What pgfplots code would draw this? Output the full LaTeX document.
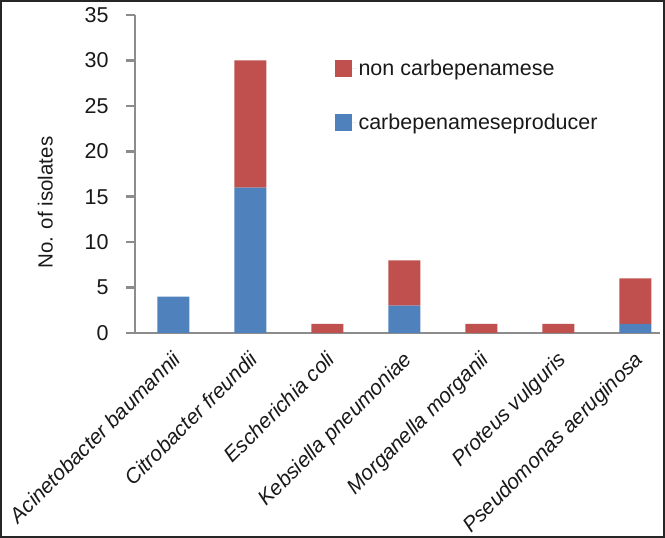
\documentclass[border=0pt]{standalone}
\usepackage{pgfplots}
\pgfplotsset{compat=1.18}
\usepackage{fontspec}
\setmainfont{Liberation Sans}
\definecolor{barblue}{HTML}{4F81BD}
\definecolor{barred}{HTML}{C0504D}
\definecolor{axgray}{HTML}{8C8C8C}
\begin{document}
\begin{tikzpicture}
\path[use as bounding box] (0pt,0pt) rectangle (665pt,538pt);
\begin{axis}[
  at={(135pt,205pt)}, anchor=south west,
  scale only axis, width=525pt, height=318pt,
  ybar stacked, bar width=32pt,
  xmin=-0.5, xmax=6.32, ymin=0, ymax=35,
  axis x line*=bottom, axis y line*=left,
  axis line style={draw=axgray, line width=2.5pt},
  ytick={0,5,...,35},
  xtick={0,...,6},
  xticklabels={Acinetobacter baumannii, Citrobacter freundii, Escherichia coli, Kebsiella pneumoniae, Morganella morganii, Proteus vulguris, Pseudomonas aeruginosa},
  tick align=outside,
  major tick length=9pt,
  ytick style={draw=axgray, line width=2.5pt},
  xtick style={draw=none},
  extra x ticks={-0.5,0.5,...,5.5},
  extra x tick labels={},
  extra x tick style={tick style={draw=axgray, line width=2.5pt}, major tick length=9pt},
  /pgf/number format/assume math mode=true,
  ticklabel style={font=\fontsize{21.5}{25}\selectfont, text=black!90},
  yticklabel style={xshift=-14pt},
  xticklabel style={font=\fontsize{21}{25}\selectfont\itshape, rotate=45, anchor=north east, inner sep=1pt, xshift=-6pt, yshift=-3pt},
  ylabel={No. of isolates},
  every axis y label/.style={at={(axis description cs:-0.171,0.41)}, rotate=90, anchor=center, font=\fontsize{20.5}{24}\selectfont, text=black!90},
  legend style={draw=none, fill=none, at={(0.374,0.872)}, anchor=north west, font=\fontsize{21.5}{25}\selectfont, row sep=33pt, text=black!90},
  legend cell align=left,
  reverse legend,
  legend image code/.code={\fill[#1] (0pt,-8.5pt) rectangle (17pt,8.5pt); \path (0pt,0pt) -- (22pt,0pt);},
]
\addplot[fill=barblue, draw=none] coordinates {(0,4) (1,16) (2,0) (3,3) (4,0) (5,0) (6,1)};
\addlegendentry{carbepenameseproducer}
\addplot[fill=barred, draw=none] coordinates {(0,0) (1,14) (2,1) (3,5) (4,1) (5,1) (6,5)};
\addlegendentry{non carbepenamese}
\end{axis}
\draw[line width=2pt, black!85] (1pt,1pt) rectangle (664pt,537pt);
\end{tikzpicture}
\end{document}
